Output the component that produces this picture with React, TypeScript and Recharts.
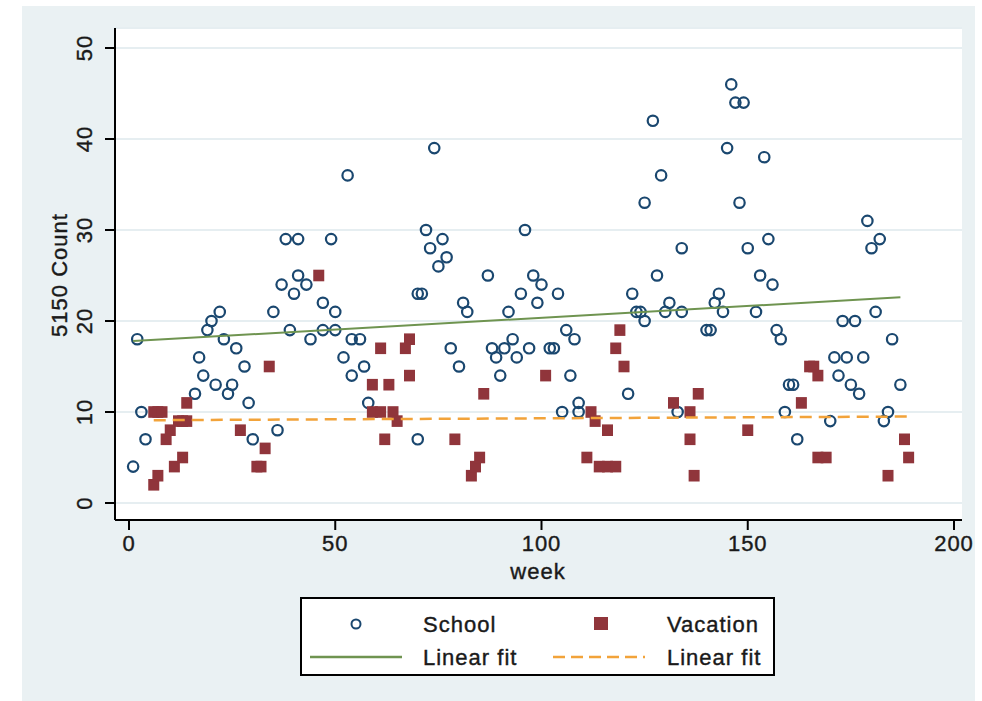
import { ComposedChart, Scatter, XAxis, YAxis, CartesianGrid } from "recharts";

// weekly 5150 counts, split by school term vs vacation weeks
const schoolPoints = [
  { x: 1, y: 4 }, { x: 2, y: 18 }, { x: 3, y: 10 }, { x: 4, y: 7 },
  { x: 16, y: 12 }, { x: 17, y: 16 }, { x: 18, y: 14 }, { x: 19, y: 19 }, { x: 20, y: 20 },
  { x: 21, y: 13 }, { x: 22, y: 21 }, { x: 23, y: 18 }, { x: 24, y: 12 }, { x: 25, y: 13 },
  { x: 26, y: 17 }, { x: 28, y: 15 }, { x: 29, y: 11 }, { x: 30, y: 7 }, { x: 35, y: 21 },
  { x: 36, y: 8 }, { x: 37, y: 24 }, { x: 38, y: 29 }, { x: 39, y: 19 }, { x: 40, y: 23 },
  { x: 41, y: 29 }, { x: 41, y: 25 }, { x: 43, y: 24 }, { x: 44, y: 18 }, { x: 47, y: 19 },
  { x: 47, y: 22 }, { x: 49, y: 29 }, { x: 50, y: 21 }, { x: 50, y: 19 }, { x: 52, y: 16 },
  { x: 53, y: 36 }, { x: 54, y: 18 }, { x: 56, y: 18 }, { x: 57, y: 15 }, { x: 54, y: 14 },
  { x: 58, y: 11 }, { x: 70, y: 7 }, { x: 70, y: 23 }, { x: 71, y: 23 }, { x: 72, y: 30 },
  { x: 73, y: 28 }, { x: 74, y: 39 }, { x: 75, y: 26 }, { x: 76, y: 29 }, { x: 77, y: 27 },
  { x: 78, y: 17 }, { x: 80, y: 15 }, { x: 81, y: 22 }, { x: 82, y: 21 }, { x: 87, y: 25 },
  { x: 88, y: 17 }, { x: 89, y: 16 }, { x: 90, y: 14 }, { x: 91, y: 17 }, { x: 92, y: 21 },
  { x: 93, y: 18 }, { x: 94, y: 16 }, { x: 95, y: 23 }, { x: 96, y: 30 }, { x: 97, y: 17 },
  { x: 98, y: 25 }, { x: 99, y: 22 }, { x: 100, y: 24 }, { x: 102, y: 17 }, { x: 103, y: 17 },
  { x: 104, y: 23 }, { x: 105, y: 10 }, { x: 106, y: 19 }, { x: 107, y: 14 }, { x: 108, y: 18 },
  { x: 109, y: 11 }, { x: 109, y: 10 }, { x: 121, y: 12 }, { x: 122, y: 23 }, { x: 123, y: 21 },
  { x: 124, y: 21 }, { x: 125, y: 20 }, { x: 125, y: 33 }, { x: 127, y: 42 }, { x: 128, y: 25 },
  { x: 129, y: 36 }, { x: 130, y: 21 }, { x: 131, y: 22 }, { x: 133, y: 10 }, { x: 134, y: 21 },
  { x: 134, y: 28 }, { x: 140, y: 19 }, { x: 141, y: 19 }, { x: 142, y: 22 }, { x: 143, y: 23 },
  { x: 144, y: 21 }, { x: 145, y: 39 }, { x: 146, y: 46 }, { x: 147, y: 44 }, { x: 148, y: 33 },
  { x: 149, y: 44 }, { x: 150, y: 28 }, { x: 152, y: 21 }, { x: 153, y: 25 }, { x: 154, y: 38 },
  { x: 155, y: 29 }, { x: 156, y: 24 }, { x: 157, y: 19 }, { x: 158, y: 18 }, { x: 159, y: 10 },
  { x: 160, y: 13 }, { x: 161, y: 13 }, { x: 162, y: 7 }, { x: 170, y: 9 }, { x: 171, y: 16 },
  { x: 172, y: 14 }, { x: 173, y: 20 }, { x: 174, y: 16 }, { x: 175, y: 13 }, { x: 176, y: 20 },
  { x: 177, y: 12 }, { x: 178, y: 16 }, { x: 179, y: 31 }, { x: 180, y: 28 }, { x: 181, y: 21 },
  { x: 182, y: 29 }, { x: 183, y: 9 }, { x: 184, y: 10 }, { x: 185, y: 18 }, { x: 187, y: 13 },
];

const vacationPoints = [
  { x: 6, y: 2 }, { x: 7, y: 3 }, { x: 6, y: 10 }, { x: 7, y: 10 }, { x: 8, y: 10 },
  { x: 9, y: 7 }, { x: 10, y: 8 }, { x: 11, y: 4 }, { x: 12, y: 9 }, { x: 13, y: 9 },
  { x: 14, y: 9 }, { x: 13, y: 5 }, { x: 14, y: 11 }, { x: 27, y: 8 }, { x: 31, y: 4 },
  { x: 32, y: 4 }, { x: 33, y: 6 }, { x: 34, y: 15 }, { x: 46, y: 25 }, { x: 59, y: 10 },
  { x: 61, y: 10 }, { x: 59, y: 13 }, { x: 61, y: 17 }, { x: 62, y: 7 }, { x: 63, y: 13 },
  { x: 64, y: 10 }, { x: 65, y: 9 }, { x: 67, y: 17 }, { x: 68, y: 18 }, { x: 68, y: 14 },
  { x: 79, y: 7 }, { x: 83, y: 3 }, { x: 84, y: 4 }, { x: 85, y: 5 }, { x: 86, y: 12 },
  { x: 101, y: 14 }, { x: 111, y: 5 }, { x: 112, y: 10 }, { x: 113, y: 9 }, { x: 114, y: 4 },
  { x: 116, y: 4 }, { x: 118, y: 4 }, { x: 116, y: 8 }, { x: 118, y: 17 }, { x: 119, y: 19 },
  { x: 120, y: 15 }, { x: 132, y: 11 }, { x: 136, y: 10 }, { x: 136, y: 7 }, { x: 137, y: 3 },
  { x: 138, y: 12 }, { x: 150, y: 8 }, { x: 163, y: 11 }, { x: 165, y: 15 }, { x: 166, y: 15 },
  { x: 167, y: 14 }, { x: 167, y: 5 }, { x: 169, y: 5 }, { x: 184, y: 3 }, { x: 188, y: 7 },
  { x: 189, y: 5 },
];

// end points of the two fitted lines
const schoolFit = [{ x: 1, y: 17.8 }, { x: 187, y: 22.6 }];
const vacationFit = [{ x: 6, y: 9.1 }, { x: 189, y: 9.5 }];

const xTicks = [0, 50, 100, 150, 200];
const yTicks = [0, 10, 20, 30, 40, 50];

const NAVY = "#1a476f";
const MAROON = "#90353b";
const GREEN = "#6f9450";
const ORANGE = "#f2a33a";
const INK = "#1a1a1a";
const FONT = "'Liberation Sans', Arial, sans-serif";

const HollowCircle = (p: any) => (
  <circle cx={p.cx} cy={p.cy} r={5.2} fill="none" stroke={NAVY} strokeWidth={2.2} />
);
const FilledSquare = (p: any) => (
  <rect x={p.cx - 5.5} y={p.cy - 5.8} width={11} height={11.6} fill={MAROON} />
);
const NoShape = () => <g />;

const YTick = (p: any) => (
  <text
    x={p.x}
    y={p.y}
    transform={`rotate(-90, ${p.x}, ${p.y})`}
    textAnchor="middle"
    fontSize={22}
    fontFamily={FONT}
    letterSpacing={1}
    fill={INK}
    stroke={INK}
    strokeWidth={0.4}
  >
    {p.payload.value}
  </text>
);

const txt = {
  fontFamily: FONT,
  fontSize: 22,
  letterSpacing: 1,
  color: INK,
  WebkitTextStroke: "0.4px " + INK,
  position: "absolute" as const,
  lineHeight: "22px",
};

export default function App() {
  return (
    <div style={{ position: "absolute", left: 0, top: 0, width: 982, height: 701, background: "#fff", overflow: "hidden" }}>
      <div style={{ position: "absolute", left: 22, top: 6, width: 953, height: 695, background: "#eaf1f3" }} />
      <div style={{ position: "absolute", left: 0, top: 0 }}>
        <ComposedChart width={982} height={701} margin={{ top: 28, right: 20, bottom: 121, left: 55 }}>
          <CartesianGrid vertical={false} stroke="#e6eef1" strokeWidth={2} fill="#ffffff" />
          <XAxis
            type="number"
            dataKey="x"
            domain={[0, 200]}
            ticks={xTicks}
            padding={{ left: 14, right: 8 }}
            height={60}
            axisLine={{ stroke: "#000", strokeWidth: 2 }}
            tickLine={{ stroke: "#000", strokeWidth: 2 }}
            tickSize={10}
            tickMargin={5}
            tick={{ fontSize: 22, fontFamily: FONT, fill: INK, stroke: INK, strokeWidth: 0.4, letterSpacing: 1 }}
          />
          <YAxis
            type="number"
            dataKey="y"
            domain={[0, 50]}
            ticks={yTicks}
            padding={{ top: 20, bottom: 17 }}
            width={60}
            axisLine={{ stroke: "#000", strokeWidth: 2 }}
            tickLine={{ stroke: "#000", strokeWidth: 2 }}
            tickSize={10}
            tickMargin={13}
            tick={<YTick />}
          />
          <Scatter data={schoolPoints} shape={<HollowCircle />} isAnimationActive={false} />
          <Scatter data={vacationPoints} shape={<FilledSquare />} isAnimationActive={false} />
          <Scatter data={schoolFit} shape={<NoShape />} line={{ stroke: GREEN, strokeWidth: 2 }} isAnimationActive={false} />
          <Scatter data={vacationFit} shape={<NoShape />} line={{ stroke: ORANGE, strokeWidth: 2.5, strokeDasharray: "12 7" }} isAnimationActive={false} />
        </ComposedChart>
      </div>

      {/* axis titles */}
      <div style={{ ...txt, left: 60 - 70, top: 275 - 11, width: 140, textAlign: "center", transform: "rotate(-90deg)" }}>5150 Count</div>
      <div style={{ ...txt, left: 488, top: 561, width: 100, textAlign: "center" }}>week</div>

      {/* legend */}
      <div style={{ position: "absolute", left: 300, top: 597, width: 475, height: 79, background: "#fff", border: "2px solid #000", boxSizing: "border-box" }}>
        <svg width={471} height={75} style={{ position: "absolute", left: 0, top: 0 }}>
          <circle cx={54} cy={25} r={4.5} fill="none" stroke={NAVY} strokeWidth={2} />
          <rect x={292} y={18} width={14} height={13} fill={MAROON} />
          <line x1={8} y1={58} x2={100} y2={58} stroke={GREEN} strokeWidth={2.5} />
          <line x1={251} y1={58} x2={343} y2={58} stroke={ORANGE} strokeWidth={2.5} strokeDasharray="12 6" />
        </svg>
        <div style={{ ...txt, left: 121, top: 15 }}>School</div>
        <div style={{ ...txt, left: 365, top: 15 }}>Vacation</div>
        <div style={{ ...txt, left: 121, top: 48 }}>Linear fit</div>
        <div style={{ ...txt, left: 365, top: 48 }}>Linear fit</div>
      </div>
    </div>
  );
}
